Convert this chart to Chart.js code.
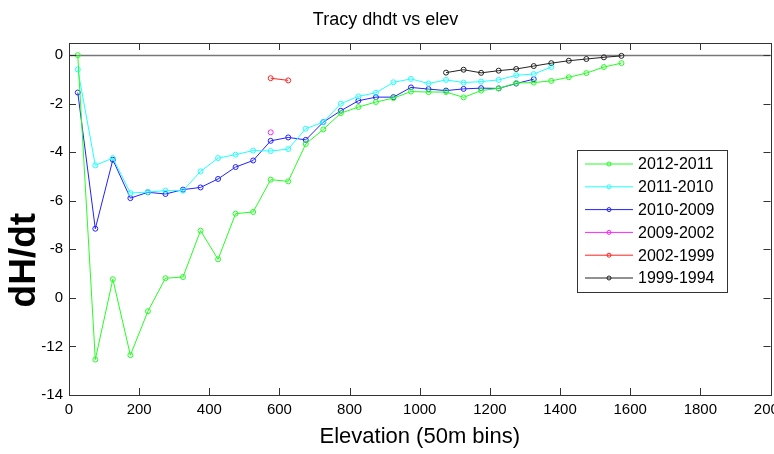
<!DOCTYPE html>
<html>
<head>
<meta charset="utf-8">
<script src="https://cdn.jsdelivr.net/npm/chart.js@4"></script>
<style>
  body { margin: 0; background: #fff; }
  #wrap { width: 774px; height: 454px; position: relative; }
</style>
</head>
<body>
<div id="wrap"><canvas id="dhdtChart"></canvas></div>
<script>
// elevation bin centres (m)
const elev12 = [25, 75, 125, 175, 225, 275, 325, 375, 425, 475, 525, 575, 625, 675, 725, 775,
  825, 875, 925, 975, 1025, 1075, 1125, 1175, 1225, 1275, 1325, 1375, 1425, 1475, 1525, 1575];
const elev11 = elev12.slice(0, 28);
const elev10 = elev12.slice(0, 27);
const elev09 = [575];
const elev02 = [575, 625];
const elev99 = [1075, 1125, 1175, 1225, 1275, 1325, 1375, 1425, 1475, 1525, 1575];

// dH/dt values
const dhdt2012 = [0, -12.54, -9.23, -12.36, -10.55, -9.19, -9.14, -7.23, -8.41, -6.53, -6.46, -5.13,
  -5.2, -3.66, -3.06, -2.39, -2.14, -1.93, -1.77, -1.5, -1.52, -1.52, -1.74, -1.46, -1.37, -1.15,
  -1.13, -1.06, -0.91, -0.74, -0.49, -0.33];
const dhdt2011 = [-0.59, -4.54, -4.24, -5.68, -5.64, -5.58, -5.58, -4.79, -4.24, -4.1, -3.93, -3.95,
  -3.87, -3.03, -2.76, -2.0, -1.7, -1.55, -1.12, -0.98, -1.17, -1.02, -1.13, -1.09, -1.02, -0.83,
  -0.78, -0.49];
const dhdt2010 = [-1.54, -7.15, -4.31, -5.89, -5.65, -5.72, -5.54, -5.45, -5.1, -4.61, -4.34, -3.53,
  -3.39, -3.49, -2.76, -2.29, -1.88, -1.73, -1.73, -1.33, -1.4, -1.46, -1.39, -1.36, -1.37, -1.17,
  -0.99];
const dhdt2009 = [-3.18];
const dhdt2002 = [-0.95, -1.04];
const dhdt1999 = [-0.72, -0.6, -0.73, -0.64, -0.57, -0.45, -0.33, -0.23, -0.16, -0.09, -0.03];

const seriesLabels = ['2012-2011', '2011-2010', '2010-2009', '2009-2002', '2002-1999', '1999-1994'];
const seriesX = [elev12, elev11, elev10, elev09, elev02, elev99];
const seriesY = [dhdt2012, dhdt2011, dhdt2010, dhdt2009, dhdt2002, dhdt1999];
const seriesColors = ['#22ff22', '#22ffff', '#2222ff', '#ff22ff', '#ff2222', '#222222'];

const xTicks = [0, 200, 400, 600, 800, 1000, 1200, 1400, 1600, 1800, 2000];
const yTicks = [-14, -12, -10, -8, -6, -4, -2, 0];
const yTickLabels = ['-14', '-12', '0', '-8', '-6', '-4', '-2', '0'];

const FONT = "'Liberation Sans', Arial, Helvetica, sans-serif";

const datasets = seriesLabels.map((label, i) => ({
  label: label,
  data: seriesX[i].map((x, j) => ({ x: x, y: seriesY[i][j] })),
  showLine: true,
  borderColor: seriesColors[i],
  borderWidth: 1,
  pointRadius: 2.5,
  pointBorderWidth: 1,
  pointBorderColor: seriesColors[i],
  pointBackgroundColor: 'rgba(255,255,255,0)',
  pointHoverRadius: 2.5
}));

// frame box, inward ticks and the zero line
const framePlugin = {
  id: 'frame',
  beforeDatasetsDraw(chart) {
    const ctx = chart.ctx, a = chart.chartArea, ys = chart.scales.y;
    const y0 = Math.round(ys.getPixelForValue(0)) + 0.5;
    ctx.save();
    ctx.strokeStyle = '#777';
    ctx.lineWidth = 1.5;
    ctx.beginPath();
    ctx.moveTo(a.left, y0);
    ctx.lineTo(a.right, y0);
    ctx.stroke();
    ctx.restore();
  },
  afterDatasetsDraw(chart) {
    const ctx = chart.ctx, a = chart.chartArea;
    const xs = chart.scales.x, ys = chart.scales.y;
    const tl = 7;
    ctx.save();
    ctx.strokeStyle = '#333';
    ctx.lineWidth = 1;
    ctx.beginPath();
    xTicks.forEach(v => {
      const px = Math.round(xs.getPixelForValue(v)) + 0.5;
      ctx.moveTo(px, a.bottom); ctx.lineTo(px, a.bottom - tl);
      ctx.moveTo(px, a.top); ctx.lineTo(px, a.top + tl);
    });
    yTicks.forEach(v => {
      const py = Math.round(ys.getPixelForValue(v)) + 0.5;
      ctx.moveTo(a.left, py); ctx.lineTo(a.left + tl, py);
      ctx.moveTo(a.right, py); ctx.lineTo(a.right - tl, py);
    });
    ctx.stroke();
    ctx.strokeRect(Math.round(a.left) + 0.5, Math.round(a.top) + 0.5,
      Math.round(a.right - a.left), Math.round(a.bottom - a.top));
    ctx.restore();
  }
};

// legend box drawn inside the axes, like the original
const legendPlugin = {
  id: 'boxLegend',
  afterDraw(chart) {
    const ctx = chart.ctx;
    const bx = 577, by = 150, bw = 150, bh = 142, rowH = 22.8;
    ctx.save();
    ctx.fillStyle = '#fff';
    ctx.fillRect(bx, by, bw, bh);
    ctx.strokeStyle = '#333';
    ctx.lineWidth = 1;
    ctx.strokeRect(bx + 0.5, by + 0.5, bw, bh);
    ctx.font = '16px ' + FONT;
    ctx.textBaseline = 'middle';
    chart.data.datasets.forEach((ds, i) => {
      const y = by + 14 + i * rowH;
      ctx.strokeStyle = ds.borderColor;
      ctx.beginPath();
      ctx.moveTo(bx + 8, y);
      ctx.lineTo(bx + 56, y);
      ctx.stroke();
      ctx.beginPath();
      ctx.arc(bx + 32, y, 2, 0, Math.PI * 2);
      ctx.stroke();
      ctx.fillStyle = '#000';
      ctx.fillText(ds.label, bx + 61, y + 1);
    });
    ctx.restore();
  }
};

new Chart(document.getElementById('dhdtChart'), {
  type: 'scatter',
  data: { datasets: datasets },
  options: {
    responsive: true,
    maintainAspectRatio: false,
    animation: false,
    events: [],
    layout: { padding: { left: 0, right: 3, top: 0, bottom: 0 } },
    plugins: {
      legend: { display: false },
      tooltip: { enabled: false },
      title: {
        display: true,
        text: 'Tracy dhdt vs elev',
        color: '#000',
        font: { family: FONT, size: 18, weight: 'normal' },
        padding: { top: 9, bottom: 12.4 }
      }
    },
    scales: {
      x: {
        type: 'linear',
        min: 0,
        max: 2000,
        grid: { display: false, drawTicks: false },
        border: { display: false },
        afterBuildTicks: s => { s.ticks = xTicks.map(v => ({ value: v })); },
        afterFit: s => { s.height = 59; s.paddingLeft = 0; s.paddingRight = 0; },
        ticks: {
          color: '#000',
          padding: 6,
          maxRotation: 0,
          autoSkip: false,
          font: { family: FONT, size: 15 },
          callback: (v) => String(v)
        },
        title: {
          display: true,
          text: 'Elevation (50m bins)',
          color: '#000',
          font: { family: FONT, size: 22 },
          padding: { top: 0, bottom: 4 }
        }
      },
      y: {
        type: 'linear',
        min: -14,
        max: 0.5,
        grid: { display: false, drawTicks: false },
        border: { display: false },
        afterBuildTicks: s => { s.ticks = yTicks.map(v => ({ value: v })); },
        afterFit: s => { s.width = 69; },
        ticks: {
          color: '#000',
          padding: 6,
          autoSkip: false,
          font: { family: FONT, size: 15 },
          callback: (v, i) => yTickLabels[i]
        },
        title: {
          display: true,
          text: 'dH/dt        ',
          color: '#000',
          font: { family: FONT, size: 37, weight: 'bold' },
          padding: { top: 2.5, bottom: 0 }
        }
      }
    }
  },
  plugins: [framePlugin, legendPlugin]
});
</script>
</body>
</html>
